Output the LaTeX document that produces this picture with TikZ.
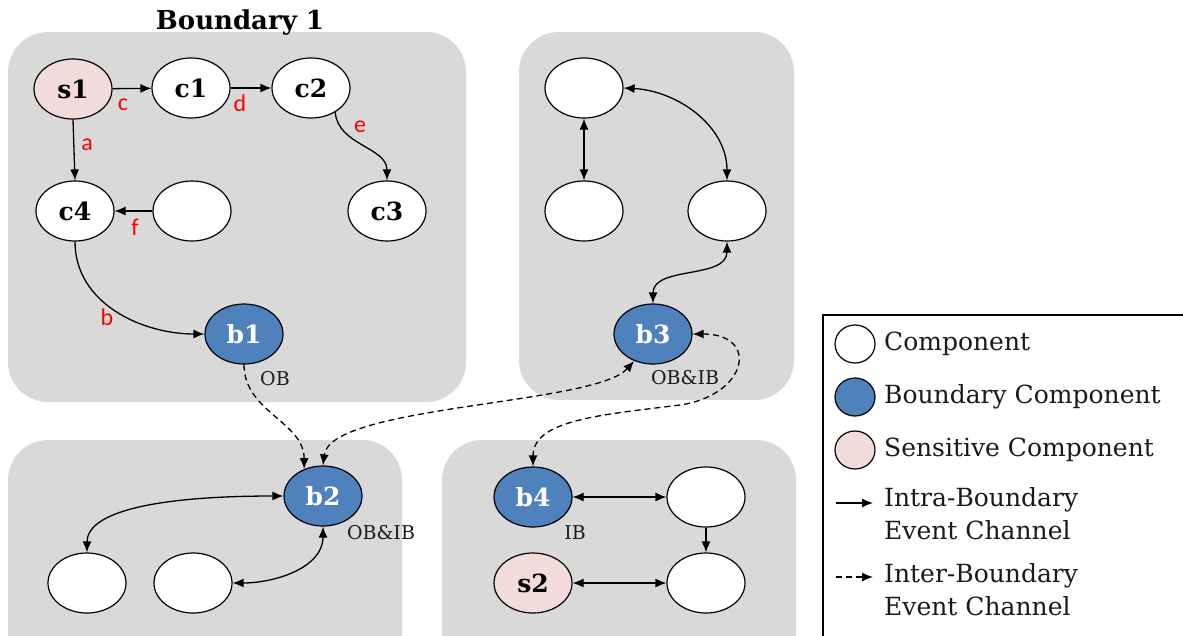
\documentclass[tikz,border=0pt]{standalone}
\usepackage{fontspec}
\setmainfont{DejaVu Serif}
\newfontfamily\lblfont{Carlito}
\usetikzlibrary{shapes.geometric,arrows.meta}
\definecolor{boxgray}{HTML}{D9D9D9}
\definecolor{bblue}{HTML}{4F81BD}
\definecolor{spink}{HTML}{F2DCDB}
\definecolor{lblred}{HTML}{FF0000}
\definecolor{txtdark}{HTML}{1A1A1A}
\begin{document}
\begin{tikzpicture}[x=1pt,y=1pt,
 comp/.style={ellipse,draw=black,line width=1.2pt,fill=white,minimum width=78pt,minimum height=60pt,inner sep=0pt,font=\fontsize{25}{25}\selectfont\bfseries},
 bcomp/.style={comp,fill=bblue,text=white},
 scomp/.style={comp,fill=spink},
 zone/.style={fill=boxgray,rounded corners=40pt},
 arr/.style={-{Latex[length=11pt,width=9pt]}},
 darr/.style={{Latex[length=11pt,width=9pt]}-{Latex[length=11pt,width=9pt]}},
 chan/.style={line width=1.3pt},
 ichan/.style={line width=1.3pt,dash pattern=on 6pt off 4pt},
 elbl/.style={text=lblred,font=\lblfont\fontsize{24}{24}\selectfont,inner sep=0pt},
 blbl/.style={font=\fontsize{19}{19}\selectfont,text=txtdark,inner sep=0pt},
 legtxt/.style={anchor=west,align=left,font=\fontsize{25}{33}\selectfont,text=txtdark,inner sep=0pt},
 legdot/.style={ellipse,draw=black,line width=1.2pt,minimum width=40pt,minimum height=38pt,inner sep=0pt}
]
\useasboundingbox (0,0) rectangle (1183,-635);
\fill[white] (0,0) rectangle (1183,-635);
% regions
\fill[zone] (8,-32) rectangle (466,-402);
\fill[zone] (519,-32) rectangle (794,-400);
\fill[zone] (8,-440) rectangle (402,-700);
\fill[zone] (442,-440) rectangle (796,-700);
\node[font=\fontsize{26}{26}\selectfont\bfseries] (title) at (240,-23) {Boundary 1};
% nodes
\node[scomp] (s1) at (73,-89) {s1};
\node[comp] (c1) at (191,-88) {c1};
\node[comp] (c2) at (311,-88) {c2};
\node[comp] (c4) at (75,-211) {c4};
\node[comp] (x1) at (192,-211) {};
\node[comp] (c3) at (387,-211) {c3};
\node[bcomp] (b1) at (244,-334) {b1};
\node[comp] (t1) at (584,-88) {};
\node[comp] (t2) at (584,-211) {};
\node[comp] (t3) at (727,-211) {};
\node[bcomp] (b3) at (653,-334) {b3};
\node[bcomp] (b2) at (323,-496) {b2};
\node[comp] (l1) at (87,-583) {};
\node[comp] (l2) at (193,-583) {};
\node[bcomp] (b4) at (533,-497) {b4};
\node[comp] (r1) at (706,-497) {};
\node[scomp] (s2) at (533,-583) {s2};
\node[comp] (r2) at (706,-583) {};
% intra-boundary channels
\draw[chan,arr] (s1) -- (c1);
\draw[chan,arr] (c1) -- (c2);
\draw[chan,arr] (c2.315) to[out=-85,in=90] (c3.north);
\draw[chan,arr] (s1.south) -- (c4.north);
\draw[chan,arr] (x1) -- (c4);
\draw[chan,arr] (c4.south) to[out=-90,in=180] (b1.west);
\draw[chan,darr] (t1.south) -- (t2.north);
\draw[chan,darr] (t1.east) to[out=-3,in=90] (t3.north);
\draw[chan,darr] (t3.south) to[out=-90,in=90] (b3.north);
\draw[chan,darr] (b2.west) .. controls (155,-496) and (87,-512) .. (l1.north);
\draw[chan,darr] (b2.south) to[out=-90,in=0] (l2.east);
\draw[chan,darr] (b4) -- (r1);
\draw[chan,arr] (r1) -- (r2);
\draw[chan,darr] (s2) -- (r2);
% inter-boundary channels
\draw[ichan,arr] (b1.south) to[out=-90,in=90] (b2.125);
\draw[ichan,darr] (b3.235) .. controls (595,-405) and (330,-405) .. (b2.north);
\draw[ichan,darr] (b3.east) .. controls (760,-334) and (748,-395) .. (680,-405) .. controls (600,-415) and (533,-420) .. (b4.north);
% edge labels
\node[elbl] (lc) at (123,-105) {c};
\node[elbl] (ld) at (240,-103) {d};
\node[elbl] (le) at (360,-127) {e};
\node[elbl] (la) at (87,-145) {a};
\node[elbl] (lf) at (135,-227) {f};
\node[elbl] (lb) at (107,-317) {b};
\node[blbl] (ob1) at (275,-379) {OB};
\node[blbl] (ob3) at (685,-378) {OB\&IB};
\node[blbl] (ob2) at (381,-533) {OB\&IB};
\node[blbl] (ib4) at (575,-533) {IB};
% legend
\draw[line width=1.5pt,fill=white] (823,-315) rectangle (1200,-700);
\node[legdot,fill=white] (g1) at (855,-344) {};
\node[legtxt] (gt1) at (884,-344) {Component};
\node[legdot,fill=bblue] (g2) at (855,-397) {};
\node[legtxt] (gt2) at (884,-397) {Boundary Component};
\node[legdot,fill=spink] (g3) at (855,-450) {};
\node[legtxt] (gt3) at (884,-450) {Sensitive Component};
\coordinate (ga1) at (836,-503);
\coordinate (gb1) at (873,-503);
\draw[chan,arr] (ga1) -- (gb1);
\node[legtxt] (gt4) at (884,-514) {Intra-Boundary\\Event Channel};
\coordinate (ga2) at (836,-577);
\coordinate (gb2) at (873,-577);
\draw[chan,arr,dash pattern=on 6pt off 4pt] (ga2) -- (gb2);
\node[legtxt] (gt5) at (884,-590) {Inter-Boundary\\Event Channel};
\end{tikzpicture}
\end{document}
